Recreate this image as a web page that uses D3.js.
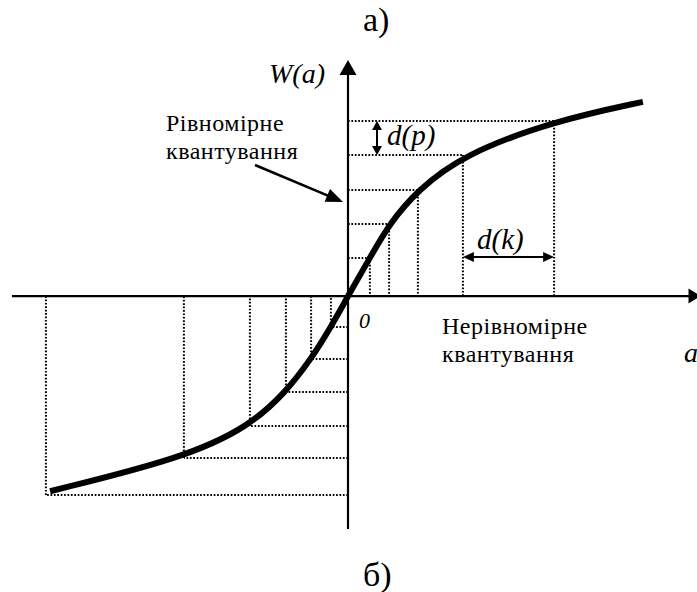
<html>

<head>
  <script src="https://d3js.org/d3.v7.min.js"></script>
  <style>
    body { margin: 0; background: #fff; }
    text { fill: #000; }
    .dot { stroke: #000; stroke-width: 2; stroke-dasharray: 1.7,1.7; fill: none; }
  </style>
</head>

<body>
  <svg width="697" height="592" id="chart"></svg>
  <script>
    // quantization points (a, W) on the right (positive) branch
    const rightA = [0.73, 1.37, 2.33, 3.83, 6.87];
    const rightW = [1.12, 2.12, 3.12, 4.15, 5.15];
    // quantization points on the left (negative) branch
    const leftA = [-0.57, -1.23, -2.07, -3.27, -5.47, -10.07];
    const leftW = [-0.91, -1.85, -2.82, -3.82, -4.76, -5.85];
    // control points of the compander curve W(a)
    const curveA = [-9.93, -5.47, -3.27, -2.07, -1.23, -0.57, 0, 0.73, 1.37, 2.33, 3.83, 6.87, 9.83];
    const curveW = [-5.74, -4.76, -3.82, -2.82, -1.85, -0.91, 0, 1.12, 2.12, 3.12, 4.15, 5.15, 5.71];

    const aMin = -11.2, aMax = 11.75;
    const wMin = -6.85, wMax = 6.94;
    const serif = "'Liberation Serif', 'DejaVu Serif', 'Times New Roman', serif";

    const svg = d3.select("#chart");
    const x = d3.scaleLinear().domain([aMin, aMax]).range([12, 700.5]);
    const y = d3.scaleLinear().domain([wMin, wMax]).range([529, 60]);

    const x0 = x(0), y0 = y(0);

    // dotted guide lines, right side
    const right = rightA.map((a, i) => ({ a: a, w: rightW[i] }));
    svg.selectAll("line.rh").data(right).join("line").attr("class", "dot")
      .attr("x1", x0).attr("x2", d => x(d.a))
      .attr("y1", d => y(d.w)).attr("y2", d => y(d.w));
    svg.selectAll("line.rv").data(right).join("line").attr("class", "dot")
      .attr("x1", d => x(d.a)).attr("x2", d => x(d.a))
      .attr("y1", d => y(d.w)).attr("y2", y0);

    // dotted guide lines, left side
    const left = leftA.map((a, i) => ({ a: a, w: leftW[i] }));
    svg.selectAll("line.lh").data(left).join("line").attr("class", "dot")
      .attr("x1", x0).attr("x2", d => x(d.a))
      .attr("y1", d => y(d.w)).attr("y2", d => y(d.w));
    svg.selectAll("line.lv").data(left).join("line").attr("class", "dot")
      .attr("x1", d => x(d.a)).attr("x2", d => x(d.a))
      .attr("y1", d => y(d.w)).attr("y2", y0);

    // axes
    svg.append("line").attr("x1", x(aMin)).attr("x2", x(aMax) - 8)
      .attr("y1", y0).attr("y2", y0).attr("stroke", "#000").attr("stroke-width", 2.2);
    svg.append("line").attr("x1", x0).attr("x2", x0)
      .attr("y1", y(wMin)).attr("y2", y(wMax) + 10).attr("stroke", "#000").attr("stroke-width", 2.2);
    svg.append("polygon")
      .attr("points", [[x0, y(wMax)], [x0 - 8.5, y(wMax) + 15], [x0 + 8.5, y(wMax) + 15]].join(" "));
    svg.append("polygon")
      .attr("points", [[x(aMax), y0], [x(aMax) - 12, y0 - 7.5], [x(aMax) - 12, y0 + 7.5]].join(" "));

    // curve (smoothed through the corner points)
    const pts = curveA.map((a, i) => [a, curveW[i]]);
    const line = d3.line().x(d => x(d[0])).y(d => y(d[1])).curve(d3.curveBasis);
    svg.append("path").attr("d", line(pts)).attr("fill", "none")
      .attr("stroke", "#000").attr("stroke-width", 6);

    // helper: arrow head polygon at (px,py) pointing in direction ang
    function head(px, py, ang, len, half) {
      const c = Math.cos(ang), s = Math.sin(ang);
      const bx = px - c * len, by = py - s * len;
      svg.append("polygon").attr("points", [[px, py],
        [bx - s * half, by + c * half], [bx + s * half, by - c * half]].join(" "));
    }

    // d(p) double arrow
    const dpX = 377, dpT = y(rightW[4]), dpB = y(rightW[3]);
    svg.append("line").attr("x1", dpX).attr("x2", dpX).attr("y1", dpT + 6).attr("y2", dpB - 6)
      .attr("stroke", "#000").attr("stroke-width", 2);
    head(dpX, dpT, -Math.PI / 2, 9, 5);
    head(dpX, dpB, Math.PI / 2, 9, 5);

    // d(k) double arrow
    const dkY = 257, dkL = x(rightA[3]), dkR = x(rightA[4]);
    svg.append("line").attr("x1", dkL + 6).attr("x2", dkR - 6).attr("y1", dkY).attr("y2", dkY)
      .attr("stroke", "#000").attr("stroke-width", 2);
    head(dkL, dkY, Math.PI, 11, 5);
    head(dkR, dkY, 0, 11, 5);

    // pointer arrow to the W axis
    const p1 = [255, 165], p2 = [343, 202];
    const ang = Math.atan2(p2[1] - p1[1], p2[0] - p1[0]);
    svg.append("line").attr("x1", p1[0]).attr("y1", p1[1])
      .attr("x2", p2[0] - Math.cos(ang) * 10).attr("y2", p2[1] - Math.sin(ang) * 10)
      .attr("stroke", "#000").attr("stroke-width", 2.5);
    head(p2[0], p2[1], ang, 17, 7);

    // texts
    function label(tx, ty, size, str, italic, spacing) {
      svg.append("text").attr("x", tx).attr("y", ty)
        .attr("font-family", serif).attr("font-size", size)
        .attr("letter-spacing", spacing || 0)
        .attr("font-style", italic ? "italic" : "normal").text(str);
    }
    label(363, 31, 34, "а)");
    label(363, 586, 34, "б)");
    label(269, 83, 28, "W(a)", true);
    label(166, 130.5, 24, "Рівномірне", false, 0.5);
    label(166, 158.5, 24, "квантування", false, 0.5);
    label(442, 334, 24, "Нерівномірне", false, 0.5);
    label(442, 362, 24, "квантування", false, 0.5);
    label(387, 145, 29, "d(p)", true);
    label(477, 249, 29, "d(k)", true);
    label(359, 328, 22, "0", true);
    label(684, 362, 28, "a", true);
  </script>
</body>

</html>
